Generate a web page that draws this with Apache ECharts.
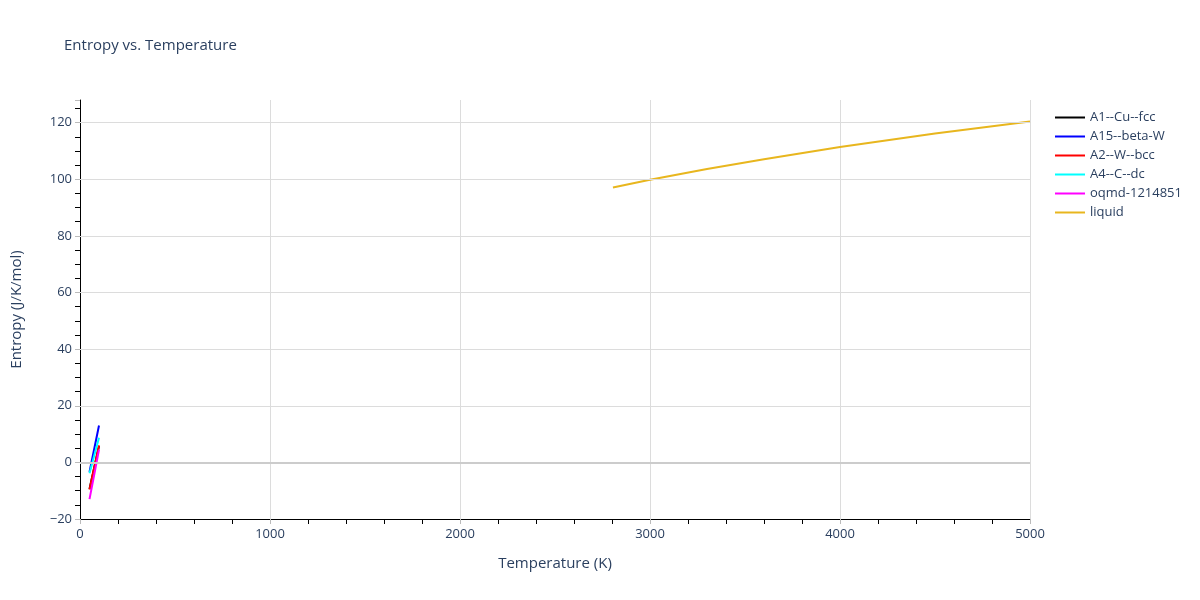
<!DOCTYPE html>
<html>
<head>
<meta charset="utf-8">
<script src="https://cdn.jsdelivr.net/npm/echarts@6/dist/echarts.min.js"></script>
<style>
	html, body { margin: 0; padding: 0; background: #fff; }
	#chart { width: 1200px; height: 600px; }
</style>
</head>
<body>
<div id="chart"></div>
<script>
// values
var seriesNames = ['A1--Cu--fcc', 'A15--beta-W', 'A2--W--bcc', 'A4--C--dc', 'oqmd-1214851', 'liquid'];
var seriesColors = ['#000000', '#0000ff', '#ff0000', '#00ffff', '#ff00ff', '#e8b61e'];

var tempLow = [50, 75, 100];
var sA1 = [-9.4, -1.8, 5.8];
var sA15 = [-3.4, 4.8, 13.0];
var sA2 = [-9.6, -1.8, 6.0];
var sA4 = [-3.8, 2.4, 8.7];
var sOqmd = [-13.0, -4.3, 4.5];

var tempLiquid = [2805, 3000, 3300, 3600, 4000, 4500, 5000];
var sLiquid = [97.1, 99.8, 103.6, 107.1, 111.4, 116.2, 120.4];

var yGridValues = [-20, 0, 20, 40, 60, 80, 100, 120];

function pairs(xs, ys) {
	var out = [];
	for (var i = 0; i < xs.length; i++) {
		out.push([xs[i], ys[i]]);
	}
	return out;
}

var seriesData = [
	pairs(tempLow, sA1),
	pairs(tempLow, sA15),
	pairs(tempLow, sA2),
	pairs(tempLow, sA4),
	pairs(tempLow, sOqmd),
	pairs(tempLiquid, sLiquid)
];

var textColor = '#2a3f5f';
var font = '"Open Sans", "Noto Sans", sans-serif';

function plainNum(v) {
	return String(v).replace('-', '\u2212');
}

var chart = echarts.init(document.getElementById('chart'));
var series = [];
for (var i = 0; i < seriesNames.length; i++) {
	series.push({
		name: seriesNames[i],
		type: 'line',
		data: seriesData[i],
		showSymbol: false,
		symbol: 'none',
		lineStyle: { width: 2, color: seriesColors[i] },
		itemStyle: { color: seriesColors[i] },
		animation: false,
		z: 3
	});
}

// horizontal grid lines, zero line thicker
var gridLines = [];
for (var j = 0; j < yGridValues.length; j++) {
	var v = yGridValues[j];
	if (v === -20) continue;
	gridLines.push({
		yAxis: v,
		lineStyle: v === 0 ? { color: '#cccccc', width: 2, type: 'solid' } : { color: '#dcdcdc', width: 1, type: 'solid' }
	});
}

var option = {
	backgroundColor: '#fff',
	textStyle: { fontFamily: font },
	title: {
		text: 'Entropy vs. Temperature',
		left: 59,
		top: 33,
		textStyle: { fontSize: 15, fontWeight: 'normal', color: textColor, fontFamily: font }
	},
	legend: {
		orient: 'vertical',
		left: 1050,
		top: 106,
		itemWidth: 30,
		itemHeight: 2,
		itemGap: 6,
		icon: 'rect',
		textStyle: { fontSize: 13, color: textColor, fontFamily: font },
		data: seriesNames
	},
	grid: { left: 80, right: 170, top: 100, bottom: 81, containLabel: false },
	xAxis: {
		type: 'value',
		min: 0,
		max: 5000,
		interval: 1000,
		name: 'Temperature (K)',
		nameLocation: 'middle',
		nameGap: 37,
		nameTextStyle: { fontSize: 15, color: textColor, fontFamily: font },
		axisLine: { show: true, onZero: false, lineStyle: { color: '#000', width: 1 } },
		axisTick: { show: true, length: 5, lineStyle: { color: '#bbb' } },
		minorTick: { show: true, splitNumber: 5, length: 5, lineStyle: { color: '#000' } },
		axisLabel: { fontSize: 13, color: textColor, margin: 9, fontFamily: font, formatter: plainNum },
		splitLine: { show: true, lineStyle: { color: '#dcdcdc', width: 1 } }
	},
	yAxis: {
		type: 'value',
		min: -20,
		max: 128,
		interval: 20,
		name: 'Entropy (J/K/mol)',
		nameLocation: 'middle',
		nameGap: 56,
		nameTextStyle: { fontSize: 15, color: textColor, fontFamily: font },
		axisLine: { show: true, onZero: false, lineStyle: { color: '#000', width: 1 } },
		axisTick: { show: true, length: 5, lineStyle: { color: '#bbb' } },
		minorTick: { show: true, splitNumber: 4, length: 5, lineStyle: { color: '#000' } },
		axisLabel: { fontSize: 13, color: textColor, margin: 8, showMaxLabel: false, fontFamily: font, formatter: plainNum },
		splitLine: { show: false }
	},
	series: series.concat([{
		type: 'line',
		data: [],
		silent: true,
		markLine: {
			silent: true,
			symbol: 'none',
			label: { show: false },
			data: gridLines,
			animation: false
		},
		z: 1
	}])
};
chart.setOption(option);
</script>
</body>
</html>
